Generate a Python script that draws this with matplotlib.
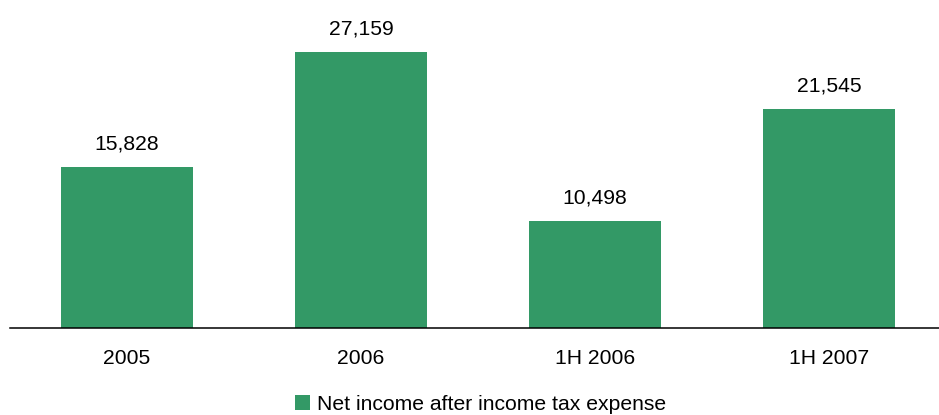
import matplotlib
matplotlib.use("Agg")
import matplotlib.pyplot as plt

# Net income after income tax expense
periods = ["2005", "2006", "1H 2006", "1H 2007"]
net_income = [15828, 27159, 10498, 21545]
value_labels = ["15,828", "27,159", "10,498", "21,545"]
series_name = "Net income after income tax expense"

bar_color = "#339966"

plt.rcParams["font.family"] = ["Liberation Sans", "DejaVu Sans"]

W, H, DPI = 939, 415, 100
fig = plt.figure(figsize=(W / DPI, H / DPI), dpi=DPI)

left_px, right_px = 10, 939
base_px = 327.5
ax = fig.add_axes([left_px / W, (H - base_px) / H, (right_px - left_px) / W, base_px / H])

x = list(range(len(periods)))
bars = ax.bar(x, net_income, width=0.562, color=bar_color, label=series_name, zorder=2)

ax.set_xlim(-0.5, -0.5 + (right_px - left_px) / 234.0)
ax.set_ylim(0, 32343)

fs = 15.2
for xi, v, lab in zip(x, net_income, value_labels):
    ax.annotate(lab, (xi, v), xytext=(0, 10), textcoords="offset points",
                ha="center", va="bottom", fontsize=fs, color="black")

ax.set_xticks(x)
ax.set_xticklabels(periods, fontsize=fs)
ax.tick_params(axis="x", length=0, pad=15.5)
ax.set_yticks([])
for s in ["top", "right", "left"]:
    ax.spines[s].set_visible(False)
ax.spines["bottom"].set_linewidth(1.1)
ax.spines["bottom"].set_color("black")
ax.patch.set_alpha(0)

fig.legend(handles=[bars], labels=[series_name], loc="center",
           bbox_to_anchor=(480.5 / W, (H - 404) / H), frameon=False,
           fontsize=fs, handlelength=0.7, handleheight=0.7,
           handletextpad=0.35, borderpad=0, borderaxespad=0)

fig.savefig("out.png", dpi=DPI)
